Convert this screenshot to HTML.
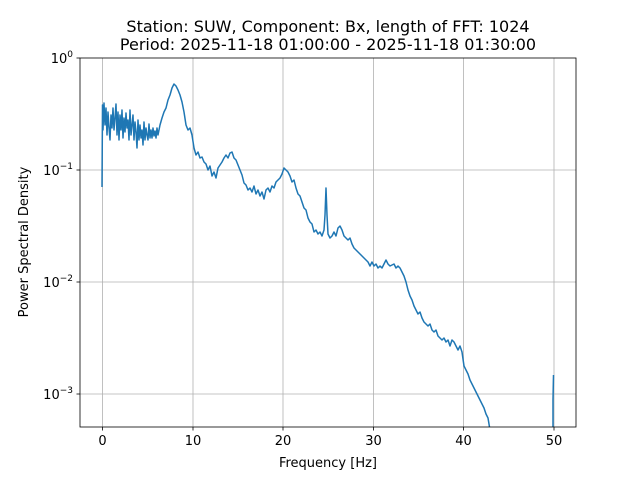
<!DOCTYPE html>
<html><head><style>body{margin:0;background:#fff}svg text{font-family:"DejaVu Sans","Liberation Sans",sans-serif;fill:#000}</style></head><body>
<svg width="640" height="480" viewBox="0 0 640 480" xmlns="http://www.w3.org/2000/svg">
<rect width="640" height="480" fill="#fff"/>
<defs><clipPath id="c"><rect x="80" y="58" width="496" height="369"/></clipPath></defs>
<g stroke="#b0b0b0" stroke-width="0.8">
<line x1="102.5" y1="58" x2="102.5" y2="427"/><line x1="193" y1="58" x2="193" y2="427"/><line x1="283" y1="58" x2="283" y2="427"/><line x1="373.5" y1="58" x2="373.5" y2="427"/><line x1="463.5" y1="58" x2="463.5" y2="427"/><line x1="554" y1="58" x2="554" y2="427"/>
<line x1="80" y1="170" x2="576" y2="170"/><line x1="80" y1="282" x2="576" y2="282"/><line x1="80" y1="394" x2="576" y2="394"/>
</g>
<g clip-path="url(#c)" fill="none" stroke="#1f77b4" stroke-width="1.5" stroke-linejoin="round">
<polyline points="102,187 102.5,105 103,130 104,103 105,125 106,108 107,135 108,112 109,128 110,140 111,115 112,128 113,108 114,130 115,118 116,104 117,135 118,112 119,140 120,115 121,130 122,110 123,138 124,118 125,132 126,113 127,128 128,120 129,140 130,110 131,135 132,125 133,115 134,140 135,122 136,132 137,148 138,120 139,140 140,125 141,138 142,130 143,145 144,122 145,140 146,128 147,135 148,140 149,124 150,138 151,130 152,138 153,128 154,136 155,131 156,138 157,128 158,135 160,125 162,118 164,112 166,108 168,100 170,95 172,88 174,84 176,86 178,90 180,95 182,102 184,112 186,125 188,130 190,128 192,135 194,148 196,155 198,152 200,158 202,157 204,162 206,164 208,170 210,166 212,176 214,172 216,178 218,168 220,165 222,162 224,158 226,155 228,158 230,153 232,152 234,158 236,160 238,165 240,170 242,175 244,183 246,185 248,190 250,188 252,192 254,186 256,194 258,190 260,196 262,192 264,199 266,190 268,188 270,192 272,186 274,188 276,182 278,180 280,178 282,174 284,168 286,170 288,172 290,176 292,182 294,180 296,188 298,194 300,196 302,202 304,208 306,210 308,218 310,222 312,224 314,232 316,230 318,234 320,232 322,236 324,230 325,215 326,188 327,215 328,234 330,238 332,236 334,232 336,236 338,228 340,226 342,230 344,236 346,238 348,240 350,238 352,244 354,248 356,250 358,252 360,254 362,256 364,258 366,260 368,262 370,266 372,262 374,266 376,264 378,268 380,266 382,268 384,264 386,260 388,264 390,266 392,265 394,264 396,268 398,266 400,268 402,272 404,276 406,282 408,290 410,296 412,300 414,306 416,310 418,314 420,312 422,318 424,322 426,324 428,326 430,324 432,330 434,332 436,330 438,336 440,338 442,340 444,338 446,342 448,340 450,346 452,340 454,342 456,346 458,350 460,346 462,352 464,366 466,370 468,374 470,380 472,384 474,388 476,392 478,396 480,400 482,404 484,408 486,414 488,418 490,430"/>
<polyline points="553,430 553,400 553.5,375"/>
</g>
<rect x="80" y="58" width="496" height="369" fill="none" stroke="#000" stroke-width="0.8"/>
<g stroke="#000" stroke-width="0.8">
<line x1="102.5" y1="427" x2="102.5" y2="430.5"/><line x1="193" y1="427" x2="193" y2="430.5"/><line x1="283" y1="427" x2="283" y2="430.5"/><line x1="373.5" y1="427" x2="373.5" y2="430.5"/><line x1="463.5" y1="427" x2="463.5" y2="430.5"/><line x1="554" y1="427" x2="554" y2="430.5"/>
<line x1="76.5" y1="58" x2="80" y2="58"/><line x1="76.5" y1="170" x2="80" y2="170"/><line x1="76.5" y1="282" x2="80" y2="282"/><line x1="76.5" y1="394" x2="80" y2="394"/>
</g>
<g font-size="13" text-anchor="middle">
<text x="102.5" y="445">0</text><text x="193" y="445">10</text><text x="283" y="445">20</text><text x="373.5" y="445">30</text><text x="463.5" y="445">40</text><text x="554" y="445">50</text>
<text x="328" y="467">Frequency [Hz]</text>
</g>
<g font-size="13" text-anchor="end">
<text x="73" y="63">10<tspan font-size="9" dy="-6">0</tspan></text>
<text x="73" y="175">10<tspan font-size="9" dy="-6">−1</tspan></text>
<text x="73" y="287">10<tspan font-size="9" dy="-6">−2</tspan></text>
<text x="73" y="399">10<tspan font-size="9" dy="-6">−3</tspan></text>
</g>
<text transform="translate(28,242) rotate(-90)" font-size="13" text-anchor="middle">Power Spectral Density</text>
<g font-size="16" text-anchor="middle">
<text x="328" y="32">Station: SUW, Component: Bx, length of FFT: 1024</text>
<text x="328" y="50">Period: 2025-11-18 01:00:00 - 2025-11-18 01:30:00</text>
</g>
</svg>
</body></html>
